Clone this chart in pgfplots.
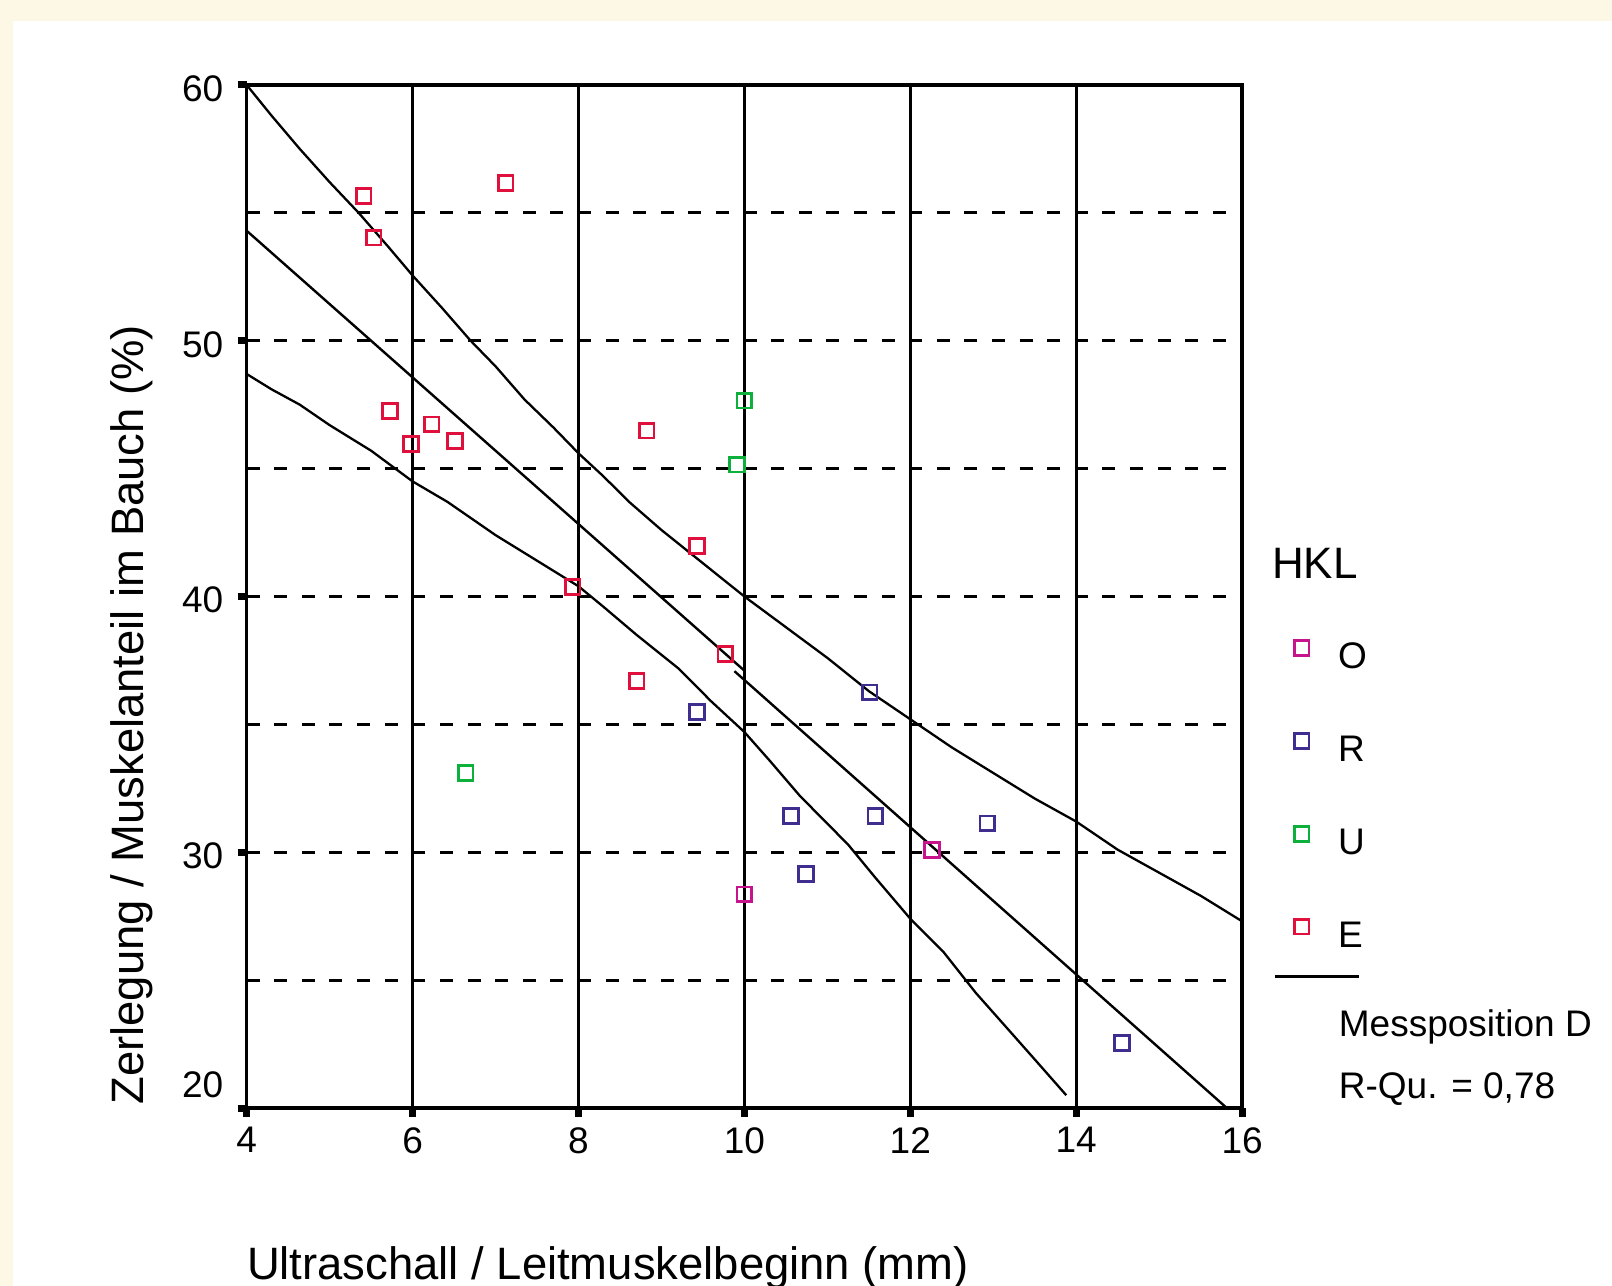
\documentclass[border=0pt]{standalone}
\usepackage{pgfplots}
\pgfplotsset{compat=1.18}
\usepackage{fontspec}
\setmainfont{Liberation Sans}
\definecolor{cream}{HTML}{FDF8E6}
\definecolor{colO}{HTML}{C8148C}
\definecolor{colR}{HTML}{3F2D8F}
\definecolor{colU}{HTML}{0DB03A}
\definecolor{colE}{HTML}{E0103C}
\begin{document}
\begin{tikzpicture}
\path[use as bounding box, fill=cream] (-123.35bp,-89bp) rectangle (682.65bp,554bp);
\fill[white] (-116.85bp,-89bp) rectangle (682.65bp,543.5bp);
\begin{axis}[
  at={(0,0)}, anchor=south west,
  scale only axis, width=497.7bp, height=511.5bp,
  xmin=4, xmax=16, ymin=20, ymax=60,
  xtick={4,6,...,16}, ytick={30,40,50,60},
  minor ytick={25,35,45,55},
  extra y ticks={20},
  extra y tick style={grid=none, yticklabel style={yshift=13.3bp}},
  tick pos=left, tick align=outside,
  major tick length=4.5bp, minor tick length=0pt,
  tick style={black, line width=3.5bp},
  axis line style={line width=1.8bp},
  xmajorgrids, ymajorgrids, yminorgrids,
  x grid style={black, line width=1.3bp, solid},
  y grid style={black, line width=1.4bp, dash pattern=on 6.5bp off 7.3bp},
  /pgf/number format/assume math mode=true,
  tick label style={font=\fontsize{18.5bp}{18.5bp}\selectfont},
  yticklabel style={inner sep=0pt, xshift=-7bp, yshift=-1.8bp},
  xticklabel style={inner sep=0pt, yshift=-5bp},
  xlabel={Ultraschall / Leitmuskelbeginn (mm)},
  ylabel={Zerlegung / Muskelanteil im Bauch (\%)},
  xlabel style={at={(axis description cs:0,-0.1564)}, anchor=west, inner sep=0pt, font=\fontsize{22.7bp}{22.7bp}\selectfont},
  ylabel style={at={(axis description cs:-0.1156,0.003)}, anchor=west, inner sep=0pt, font=\fontsize{22.7bp}{22.7bp}\selectfont},
  legend style={draw=none, fill=none, at={(axis description cs:1.0519,0.459)}, anchor=north west,
    inner sep=0pt, row sep=28.2bp, font=\fontsize{18.5bp}{18.5bp}\selectfont,
    /tikz/every odd column/.append style={column sep=12.6bp}},
  legend cell align=left,
  legend image code/.code={\draw[#1] plot coordinates {(0bp,4.6bp)};},
]
% Series O
\addplot[only marks, mark=square, mark size=3.7bp, mark options={draw=colO, line width=1.4bp}] coordinates {
(10.0,28.35) (12.26,30.08)
};
\addlegendentry{O}
% Series R
\addplot[only marks, mark=square, mark size=3.7bp, mark options={draw=colR, line width=1.4bp}] coordinates {
(9.43,35.48) (11.51,36.25) (10.56,31.41) (11.58,31.41) (10.74,29.15) (12.93,31.13) (14.55,22.54)
};
\addlegendentry{R}
% Series U
\addplot[only marks, mark=square, mark size=3.7bp, mark options={draw=colU, line width=1.4bp}] coordinates {
(10.0,47.66) (9.91,45.16) (6.64,33.1)
};
\addlegendentry{U}
% Series E
\addplot[only marks, mark=square, mark size=3.7bp, mark options={draw=colE, line width=1.4bp}] coordinates {
(5.41,55.65) (5.53,54.03) (7.12,56.17) (5.73,47.26) (5.98,45.97) (6.23,46.73) (6.51,46.09)
(7.93,40.36) (8.82,46.49) (9.43,41.98) (8.70,36.69) (9.77,37.74)
};
\addlegendentry{E}
% regression line (two segments)
\addplot[forget plot, black, line width=1.2bp] coordinates {(4,54.3) (10,37.1)};
\addplot[forget plot, black, line width=1.2bp] coordinates {(9.88,37.08) (15.85,19.9)};
% upper band
\addplot[forget plot, black, line width=1.15bp] coordinates {
(4,60) (4.3,58.8) (4.64,57.5) (5,56.2) (5.35,55) (5.7,53.7) (6,52.55) (6.35,51.3) (6.7,50)
(7.0,49.0) (7.35,47.7) (7.7,46.6) (8,45.6) (8.3,44.7) (8.61,43.7) (9.0,42.6) (9.5,41.3)
(10,40) (10.5,38.8) (11,37.6) (11.5,36.3) (12,35.2) (12.5,34.1) (13,33.1) (13.5,32.1)
(14,31.2) (14.5,30.1) (15,29.2) (15.5,28.3) (16,27.3)
};
% lower band
\addplot[forget plot, black, line width=1.15bp] coordinates {
(4,48.7) (4.3,48.1) (4.64,47.5) (5,46.7) (5.5,45.7) (6,44.5) (6.42,43.7) (7,42.4) (7.5,41.4)
(8,40.4) (8.3,39.6) (8.7,38.5) (9.2,37.2) (9.6,35.9) (10,34.7) (10.3,33.6) (10.67,32.2)
(11.25,30.3) (11.58,29.0) (12,27.4) (12.4,26.1) (12.79,24.5) (13.2,23.0) (13.5,21.9) (13.88,20.5)
};
\end{axis}
\node[anchor=base west, inner sep=0pt, font=\fontsize{22bp}{22bp}\selectfont] at (512.45bp,264.5bp) {HKL};
\draw[black, line width=1.2bp] (514bp,65.7bp) -- (556.15bp,65.7bp);
\node[anchor=base west, inner sep=0pt, font=\fontsize{18.5bp}{18.5bp}\selectfont] at (545.9bp,36bp) {Messposition D};
\node[anchor=base west, inner sep=0pt, font=\fontsize{18.5bp}{18.5bp}\selectfont] at (545.9bp,5bp) {R-Qu. = 0,78};
\end{tikzpicture}
\end{document}
